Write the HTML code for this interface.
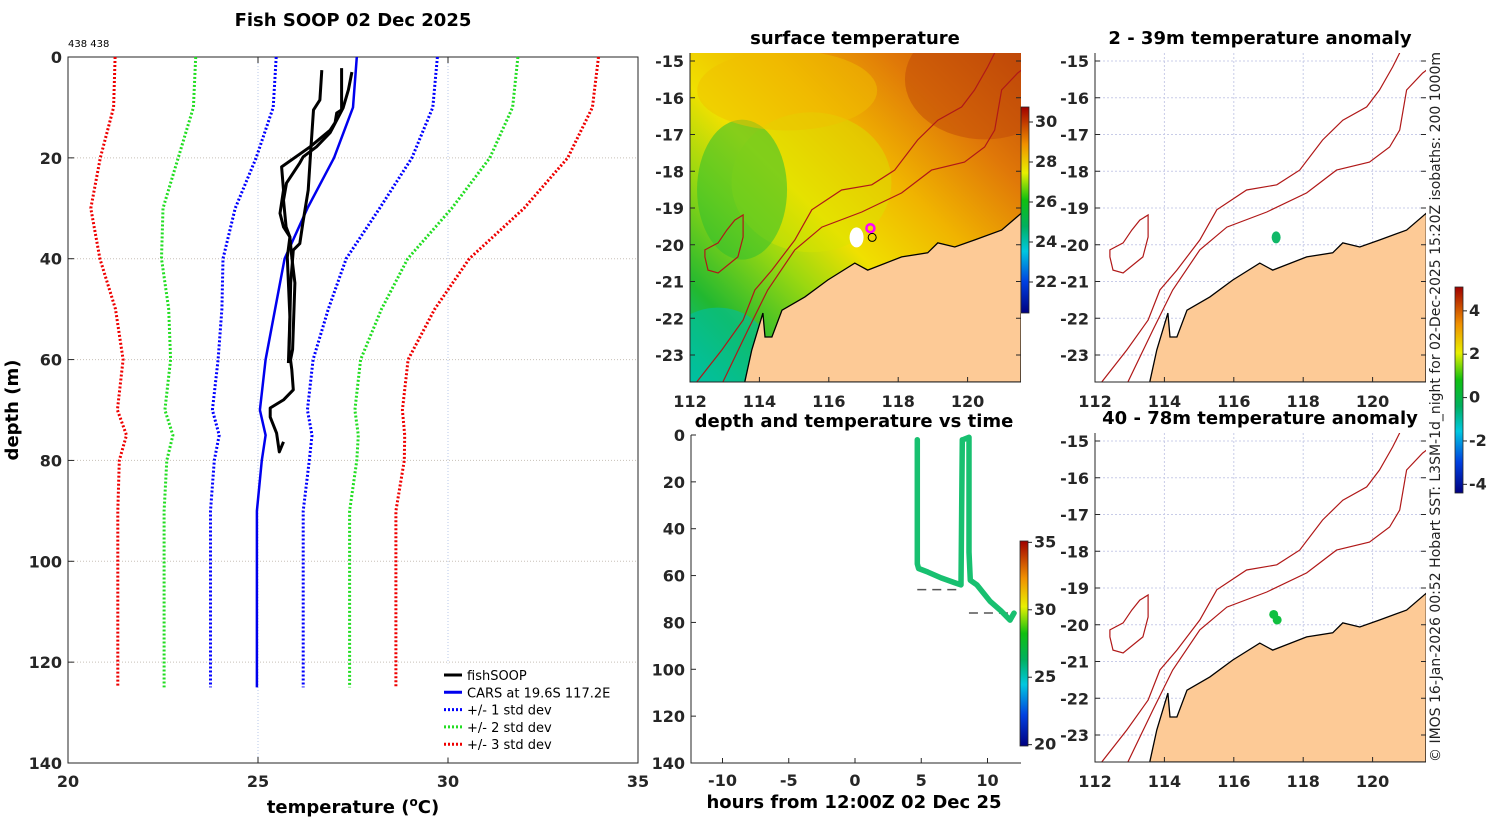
<!DOCTYPE html>
<html><head><meta charset="utf-8">
<style>
html,body{margin:0;padding:0;background:#fff;}
svg{display:block;font-family:"DejaVu Sans","Liberation Sans",sans-serif;}
.tk{font-size:16px;font-weight:bold;fill:#262626;}
.ti{font-size:18px;font-weight:bold;fill:#000;}
</style></head>
<body>
<svg id="fig" width="1500" height="820" viewBox="0 0 1500 820" xmlns="http://www.w3.org/2000/svg">
<defs>
 <linearGradient id="sstGrad" x1="0" y1="1" x2="1" y2="0">
  <stop offset="0" stop-color="#00c0a8"/><stop offset="0.15" stop-color="#22b830"/>
  <stop offset="0.32" stop-color="#9ad810"/><stop offset="0.45" stop-color="#f0e000"/>
  <stop offset="0.62" stop-color="#f0b400"/><stop offset="0.8" stop-color="#e07808"/>
  <stop offset="1" stop-color="#c04808"/>
 </linearGradient>
 <linearGradient id="jetV" x1="0" y1="1" x2="0" y2="0">
  <stop offset="0" stop-color="#000080"/><stop offset="0.15" stop-color="#0040e0"/>
  <stop offset="0.3" stop-color="#00c8e0"/><stop offset="0.42" stop-color="#00b060"/>
  <stop offset="0.55" stop-color="#10c010"/><stop offset="0.68" stop-color="#e8f000"/>
  <stop offset="0.82" stop-color="#f09000"/><stop offset="1" stop-color="#a00000"/>
 </linearGradient>
 <clipPath id="clipM1"><rect x="690" y="53" width="331" height="329"/></clipPath>
 <clipPath id="clipM2"><rect x="1095" y="53" width="331" height="329"/></clipPath>
 <clipPath id="clipM3"><rect x="1095" y="433" width="331" height="329"/></clipPath>
</defs>
<g id="profile"></g>
<g id="maps"></g>
<g id="timechart"></g>
<text x="1440" y="762" transform="rotate(-90 1440 762)" font-size="14" fill="#222">© IMOS 16-Jan-2026 00:52 Hobart SST: L3SM-1d_night for 02-Dec-2025 15:20Z isobaths: 200  1000m</text>
</svg>
<script>
// ---------- profile chart data ----------
const carsDepth = [0,10,20,30,40,50,60,70,75,80,90,100,125];
const carsMean  = [27.6,27.5,27.0,26.3,25.7,25.45,25.2,25.05,25.2,25.1,24.97,24.97,24.97];
const carsSd    = [2.12,2.1,2.05,1.9,1.62,1.4,1.25,1.25,1.22,1.25,1.22,1.22,1.22];
const profA_T = [26.68,26.63,26.46,26.39,26.32,26.18,26.1,25.93,25.86,25.82,25.89,25.93,25.67,25.32,25.32,25.49,25.56,25.67];
const profA_D = [2.6,8.5,10.5,18.4,26.4,33,37,38.3,44.8,58,62,66,68,69.6,71.4,74.6,78.3,76.3];
const profB_T = [27.2,27.2,27.07,27.03,26.9,26.37,25.62,25.67,25.58,25.67,25.84,25.89,25.97,25.91,25.84];
const profB_D = [2.2,10.5,11.1,13,14.5,17.8,21.8,26.4,31,33.7,35.7,39.7,44.8,58,60.7];
const profC_T = [27.47,27.38,27.24,26.9,26.54,26.19,26.1,25.75,25.67,25.74,25.84,25.77,25.84,25.8];
const profC_D = [3,6.5,10.1,15,17.8,19.8,21,25,28.4,33.7,35.7,39.7,51.6,60.7];
const tempTicks = [20,25,30,35];
const depthTicks = [0,20,40,60,80,100,120,140];
// ---------- time chart data ----------
const diveT = [4.7,4.7,4.8,5.5,6.5,7.5,8.0,8.05,8.1,8.15,8.6,8.6,8.7,9.2,10.2,11.0,11.7,12.0];
const diveD = [2,55,57,58.5,61,63,64,30,2,2,1,50,62,64,71,75,79,76];
const dashA = [[4.7,7.9,66]];
const dashB = [[8.6,12.2,76]];
const hourTicks = [-10,-5,0,5,10];
const tdepthTicks = [0,20,40,60,80,100,120,140];
// ---------- map geography (lon, lat) ----------
const coastLon = [113.58,113.78,114.1,114.16,114.36,114.65,115.31,115.97,116.75,117.12,118.1,118.85,119.14,119.63,120.2,120.98,121.55];
const coastLat = [-23.73,-22.86,-21.86,-22.51,-22.51,-21.78,-21.42,-20.96,-20.5,-20.69,-20.33,-20.22,-19.95,-20.06,-19.87,-19.6,-19.14];
const iso1Lon = [112.2,112.92,113.53,113.87,114.36,115.02,115.51,116.37,117.24,117.9,118.56,119.14,119.83,120.2,120.58,120.78];
const iso1Lat = [-23.73,-22.86,-22.05,-21.23,-20.69,-19.87,-19.05,-18.51,-18.37,-17.97,-17.15,-16.61,-16.25,-15.79,-15.16,-14.78];
const iso2Lon = [112.95,113.67,114.24,115.02,115.8,116.95,118.1,118.96,119.91,120.49,120.78,120.98,121.44,121.55];
const iso2Lat = [-23.73,-22.32,-21.23,-20.14,-19.52,-19.11,-18.59,-17.97,-17.75,-17.34,-16.88,-15.79,-15.33,-15.25];
const islLon = [112.43,112.81,113.06,113.29,113.53,113.53,113.38,112.81,112.52,112.43];
const islLat = [-20.14,-19.95,-19.6,-19.33,-19.19,-19.79,-20.33,-20.77,-20.69,-20.33];
const lonTicks = [112,114,116,118,120];
const latTicks = [-15,-16,-17,-18,-19,-20,-21,-22,-23];
const sstCbTicks = [22,24,26,28,30];
const anomCbTicks = [4,2,0,-2,-4];
const timeCbTicks = [35,30,25,20];

const NS='http://www.w3.org/2000/svg';
function mk(parent,tag,attrs,text){const e=document.createElementNS(NS,tag);for(const k in attrs)e.setAttribute(k,attrs[k]);if(text!==undefined)e.textContent=text;parent.appendChild(e);return e;}

// ================= profile chart =================
(function(){
 const g=document.getElementById('profile');
 const L=68,R=638,T=57,B=763;
 const xs=t=>L+(t-20)/(35-20)*(R-L);
 const ys=d=>T+d/140*(B-T);
 tempTicks.forEach(t=>{ if(t>20&&t<35){const l=mk(g,'line',{x1:xs(t),x2:xs(t),y1:T,y2:B,stroke:'#b8c8e8','stroke-width':1,'stroke-dasharray':'1,2'});}});
 depthTicks.forEach(d=>{ if(d>0&&d<140){const l=mk(g,'line',{x1:L,x2:R,y1:ys(d),y2:ys(d),stroke:'#c8c0b8','stroke-width':1,'stroke-dasharray':'1,2'});}});
 const box=mk(g,'rect',{x:L,y:T,width:R-L,height:B-T,fill:'none',stroke:'#262626','stroke-width':1});
 
 tempTicks.forEach(t=>{mk(g,'line',{x1:xs(t),x2:xs(t),y1:B,y2:B-6,stroke:'#262626'});mk(g,'line',{x1:xs(t),x2:xs(t),y1:T,y2:T+6,stroke:'#262626'});
  const tx=mk(g,'text',{x:xs(t),y:B+24,'text-anchor':'middle',class:'tk'},String(t));});
 depthTicks.forEach(d=>{mk(g,'line',{x1:L,x2:L+6,y1:ys(d),y2:ys(d),stroke:'#262626'});
  const tx=mk(g,'text',{x:L-6,y:ys(d)+6,'text-anchor':'end',class:'tk'},String(d));});
 const bands=[[1,'#0000ff','std1'],[2,'#22dd22','std2'],[3,'#ee0000','std3']];
 bands.forEach(([k,c,n])=>{[-1,1].forEach(s=>{
  const pts=carsDepth.map((d,i)=>xs(carsMean[i]+s*k*carsSd[i]).toFixed(1)+','+ys(d).toFixed(1)).join(' ');
  const p=mk(g,'polyline',{points:pts,fill:'none',stroke:c,'stroke-width':3,'stroke-dasharray':'2,2'});
  });});
 const mp=mk(g,'polyline',{points:carsDepth.map((d,i)=>xs(carsMean[i]).toFixed(1)+','+ys(d).toFixed(1)).join(' '),fill:'none',stroke:'#0000ee','stroke-width':2.5});
 
 [[profA_T,profA_D,'a'],[profB_T,profB_D,'b'],[profC_T,profC_D,'c']].forEach(([tt,dd,n])=>{
  const p=mk(g,'polyline',{points:tt.map((t,i)=>xs(t).toFixed(1)+','+ys(dd[i]).toFixed(1)).join(' '),fill:'none',stroke:'#000','stroke-width':3,'stroke-linejoin':'round'});
  });
 const tt=mk(g,'text',{x:353,y:26,'text-anchor':'middle',class:'ti'},'Fish SOOP 02 Dec 2025');
 const sm=mk(g,'text',{x:68,y:47,'font-size':10,fill:'#000'},'438 438');
 const xt=mk(g,'text',{x:353,y:813,'text-anchor':'middle',class:'ti'},'temperature (');
 mk(xt,'tspan',{dy:-7,'font-size':12},'o');mk(xt,'tspan',{dy:7},'C)');
 const yt=mk(g,'text',{x:18,y:410,'text-anchor':'middle',class:'ti',transform:'rotate(-90 18 410)'},'depth (m)');
 const lg=mk(g,'g',{});
 mk(lg,'rect',{x:439,y:664,width:181,height:93,fill:'#fff',stroke:'#fff'});
 const items=[['fishSOOP','#000',''],['CARS at 19.6S 117.2E','#0000ee',''],['+/- 1 std dev','#0000ff','2,2'],['+/- 2 std dev','#22dd22','2,2'],['+/- 3 std dev','#ee0000','2,2']];
 items.forEach((it,i)=>{const y=675+i*17.3;const e=mk(lg,'g',{});
  mk(e,'line',{x1:444,x2:462,y1:y,y2:y,stroke:it[1],'stroke-width':3,'stroke-dasharray':it[2]||'none'});
  mk(e,'text',{x:467,y:y+5,'font-size':13,fill:'#000'},it[0]);});
})();

// ================= maps =================
function mapAxes(x0,y0,top){
 const kx=34.7,ky=36.75;
 const px=lon=>x0+(lon-112)*kx, py=lat=>y0+(-15-lat)*ky;
 return {px,py,L:x0,R:x0+331,T:top,B:top+329};
}
function poly(lons,lats,m){return lons.map((l,i)=>m.px(l).toFixed(1)+','+m.py(lats[i]).toFixed(1)).join(' ');}
function drawMap(id,x0,y0,top,sst,title,clip,dots){
 const g=mk(document.getElementById('maps'),'g',{});
 
 const m=mapAxes(x0,y0,top);
 const inner=mk(g,'g',{'clip-path':'url(#'+clip+')'});
 if(sst){
  const bg=mk(inner,'rect',{x:m.L,y:m.T,width:331,height:329,fill:'url(#sstGrad)'});
  mk(inner,'ellipse',{cx:m.px(115.5),cy:m.py(-18.3),rx:80,ry:70,fill:'#d8e400',opacity:0.45});
  mk(inner,'ellipse',{cx:m.px(113.5),cy:m.py(-18.5),rx:45,ry:70,fill:'#30c030',opacity:0.55});
  mk(inner,'ellipse',{cx:m.px(112.8),cy:m.py(-22.8),rx:50,ry:40,fill:'#00c0a0',opacity:0.6});
  mk(inner,'ellipse',{cx:m.px(114.8),cy:m.py(-15.8),rx:90,ry:40,fill:'#f0c000',opacity:0.5});
  mk(inner,'ellipse',{cx:m.px(120.5),cy:m.py(-15.5),rx:80,ry:60,fill:'#c04808',opacity:0.5});
  mk(inner,'ellipse',{cx:m.px(116.8),cy:m.py(-19.8),rx:7,ry:10,fill:'#fff'});
 } else {
  lonTicks.forEach(l=>mk(inner,'line',{x1:m.px(l),x2:m.px(l),y1:m.T,y2:m.B,stroke:'#c8cce8','stroke-width':1,'stroke-dasharray':'2,2'}));
  latTicks.forEach(l=>mk(inner,'line',{x1:m.L,x2:m.R,y1:m.py(l),y2:m.py(l),stroke:'#c8cce8','stroke-width':1,'stroke-dasharray':'2,2'}));
 }
 const land=mk(inner,'polygon',{points:poly(coastLon,coastLat,m)+' '+m.R+','+m.B+' '+m.px(113.58)+','+m.B,fill:'#fdca96',stroke:'#000','stroke-width':1.3});
 
 [[iso1Lon,iso1Lat,'isobath-1000m'],[iso2Lon,iso2Lat,'isobath-200m']].forEach(([a,b,n])=>{const p=mk(inner,'polyline',{points:poly(a,b,m),fill:'none',stroke:'#b01818','stroke-width':1.2});});
 const isl=mk(inner,'polygon',{points:poly(islLon,islLat,m),fill:'none',stroke:'#b01818','stroke-width':1.2});
 dots(inner,m);
 lonTicks.forEach(l=>{mk(g,'line',{x1:m.px(l),x2:m.px(l),y1:m.B,y2:m.B-5,stroke:'#262626'});
  const t=mk(g,'text',{x:m.px(l),y:m.B+25,'text-anchor':'middle',class:'tk'},String(l));});
 latTicks.forEach(l=>{mk(g,'line',{x1:m.L,x2:m.L+5,y1:m.py(l),y2:m.py(l),stroke:'#262626'});mk(g,'line',{x1:m.R,x2:m.R-5,y1:m.py(l),y2:m.py(l),stroke:'#262626'});
  const t=mk(g,'text',{x:m.L-6,y:m.py(l)+6,'text-anchor':'end',class:'tk'},String(l));});
 mk(g,'polyline',{points:m.L+','+m.T+' '+m.L+','+m.B+' '+m.R+','+m.B,fill:'none',stroke:'#262626'});
 const tt=mk(g,'text',{x:m.L+165,y:m.T-9,'text-anchor':'middle',class:'ti'},title);
}
drawMap('sst-map',690,61,53,true,'surface temperature','clipM1',(g,m)=>{
 const c=mk(g,'circle',{cx:m.px(117.2),cy:m.py(-19.55),r:4,fill:'none',stroke:'#ff00ff','stroke-width':2.5});
 mk(g,'circle',{cx:m.px(117.25),cy:m.py(-19.8),r:4,fill:'none',stroke:'#000','stroke-width':1});
});
drawMap('anomaly-map-shallow',1095,61,53,false,'2 - 39m temperature anomaly','clipM2',(g,m)=>{
 const c=mk(g,'ellipse',{cx:m.px(117.22),cy:m.py(-19.8),rx:4.5,ry:6,fill:'#10b868'});
});
drawMap('anomaly-map-deep',1095,441,433,false,'40 - 78m temperature anomaly','clipM3',(g,m)=>{
 const c=mk(g,'circle',{cx:m.px(117.15),cy:m.py(-19.72),r:4.5,fill:'#10c040'});
 const c2=mk(g,'circle',{cx:m.px(117.25),cy:m.py(-19.87),r:4.5,fill:'#10c040'});
});
function colorbar(x,y,h,vmin,vmax,ticks,name){
 const g=mk(document.getElementById('maps'),'g',{});
 mk(g,'rect',{x:x,y:y,width:8,height:h,fill:'url(#jetV)',stroke:'#262626','stroke-width':0.8});
 ticks.forEach(t=>{const yy=y+(vmax-t)/(vmax-vmin)*h;mk(g,'line',{x1:x+8,x2:x+12,y1:yy,y2:yy,stroke:'#262626'});
  const tx=mk(g,'text',{x:x+14,y:yy+5,class:'tk','font-size':13},String(t));});
}
colorbar(1021,107,206,20.45,30.75,sstCbTicks,'sst-colorbar');
colorbar(1455,287,206,-4.4,5.1,anomCbTicks,'anomaly-colorbar');
colorbar(1020,541,205,19.9,35.1,timeCbTicks,'time-colorbar');

// ================= depth vs time chart =================
(function(){
 const g=document.getElementById('timechart');
 const L=691,R=1021,T=435,B=763;
 const xs=h=>855+h*13.25;
 const ys=d=>T+d/140*(B-T);
 mk(g,'polyline',{points:L+','+T+' '+L+','+B+' '+R+','+B,fill:'none',stroke:'#262626'});
 hourTicks.forEach(h=>{mk(g,'line',{x1:xs(h),x2:xs(h),y1:B,y2:B-5,stroke:'#262626'});
  const t=mk(g,'text',{x:xs(h),y:B+23,'text-anchor':'middle',class:'tk'},String(h));});
 tdepthTicks.forEach(d=>{mk(g,'line',{x1:L,x2:L+5,y1:ys(d),y2:ys(d),stroke:'#262626'});
  const t=mk(g,'text',{x:L-6,y:ys(d)+6,'text-anchor':'end',class:'tk'},String(d));});
 dashA.concat(dashB).forEach(([a,b,d])=>{const l=mk(g,'line',{x1:xs(a),x2:xs(b),y1:ys(d),y2:ys(d),stroke:'#555','stroke-width':1.5,'stroke-dasharray':'9,6'});});
 const p=mk(g,'polyline',{points:diveT.map((t,i)=>xs(t).toFixed(1)+','+ys(diveD[i]).toFixed(1)).join(' '),fill:'none',stroke:'#18c070','stroke-width':5.5,'stroke-linejoin':'round','stroke-linecap':'round'});
 
 const tt=mk(g,'text',{x:854,y:427,'text-anchor':'middle',class:'ti'},'depth and temperature vs time');
 const xt=mk(g,'text',{x:854,y:808,'text-anchor':'middle',class:'ti'},'hours from 12:00Z 02 Dec 25');
})();
</script>
</body></html>
